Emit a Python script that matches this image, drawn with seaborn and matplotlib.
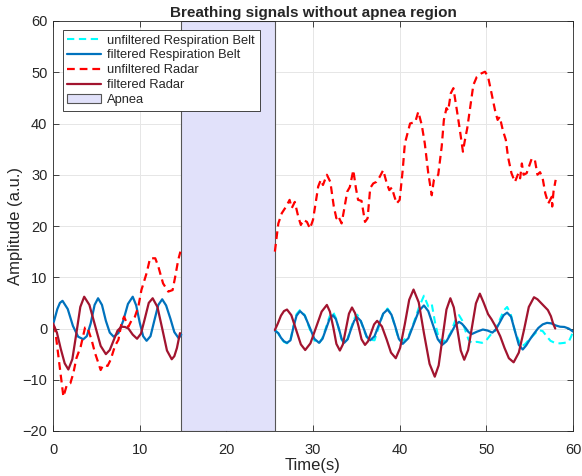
# Breathing signals without apnea region
import numpy as np
import pandas as pd
import matplotlib
matplotlib.use("Agg")
import matplotlib.pyplot as plt
import seaborn as sns
from matplotlib.patches import Patch
from matplotlib.lines import Line2D

# apnea window (s)
apnea_start = 14.8
apnea_end = 25.6

# filtered respiration belt, before apnea
belt_t1 = [0.0, 0.5, 0.8, 1.1, 1.7, 2.3, 2.9, 3.5, 3.9, 4.35, 4.8, 5.2, 5.65, 6.1, 6.55, 7.0,
           7.55, 8.1, 8.65, 9.2, 9.6, 10.0, 10.4, 10.8, 11.25, 11.7, 12.15, 12.6, 13.05, 13.55,
           14.0, 14.5, 14.8]
belt_f1 = [0.7, 3.8, 5.0, 5.4, 3.8, 0.5, -1.6, -2.1, -1.5, 1.0, 4.6, 5.9, 4.6, 1.5, -0.8, -1.6,
           -0.9, 1.5, 4.8, 6.2, 4.5, 1.2, -1.5, -2.4, -1.5, 1.6, 4.6, 5.7, 4.5, 1.9,
           -0.7, -1.9, -1.2]

# filtered radar, before apnea
radf_t1 = [0.0, 0.45, 0.9, 1.35, 1.77, 2.23, 2.7, 3.15, 3.6, 4.2, 4.85, 5.5, 6.1, 6.55, 7.0,
           7.45, 7.9, 8.3, 8.7, 9.2, 9.7, 10.15, 10.6, 11.05, 11.5, 12.05, 12.6, 13.15, 13.7,
           14.0, 14.3, 14.65]
radf_v1 = [1.0, -0.8, -4.0, -6.8, -8.0, -6.0, -0.9, 4.2, 6.2, 4.6, 0.6, -3.4, -5.0, -4.2, -2.3,
           -0.4, 0.35, 0.3, 0.0, -1.2, -2.0, -1.0, 1.95, 5.0, 5.9, 4.2, 0.0, -4.3, -6.0,
           -5.4, -3.8, -0.9]

# unfiltered radar, before apnea
radu_t1 = [0.0, 0.23, 1.2, 1.6, 2.0, 2.35, 2.7, 3.2, 3.7, 3.95, 4.45, 4.85, 5.25, 5.5, 5.8,
           6.3, 6.65, 7.15, 7.55, 7.9, 8.2, 8.7, 9.1, 9.45, 9.85, 10.2, 10.8, 11.2, 11.8,
           12.15, 12.7, 13.3, 13.8, 14.1, 14.45, 14.7]
radu_v1 = [0.7, 0.0, -13.3, -11.0, -10.7, -8.7, -5.8, -3.5, 0.2, 0.3, -2.2, -4.8, -6.8, -8.1, -7.1,
           -7.3, -6.1, -3.4, -2.2, 1.0, 2.3, 0.35, 1.7, 2.3, 4.3, 7.5, 10.8, 13.7, 13.7,
           12.1, 8.8, 7.2, 7.5, 10.1, 13.4, 15.0]

# filtered respiration belt, after apnea
belt_t2 = [25.65, 26.0, 26.3, 26.65, 27.0, 27.4, 27.75, 28.1, 28.5, 29.05, 29.6, 30.15, 30.7,
           31.1, 31.5, 31.9, 32.3, 32.65, 33.0, 33.3, 33.6, 34.0, 34.35, 34.75, 35.1, 35.5,
           35.85, 36.2, 36.6, 37.1, 37.6, 38.1, 38.6, 39.05, 39.5, 39.9, 40.35, 41.0, 41.6,
           42.2, 42.8, 43.3, 43.85, 44.4, 44.9, 45.4, 45.9, 46.4, 46.85, 47.2, 47.6, 47.95,
           48.3, 48.95, 49.6, 50.15, 50.7, 51.1, 51.55, 52.0, 52.4, 52.85, 53.3, 53.75, 54.2,
           54.6, 55.0, 55.5, 56.0, 56.5, 57.0, 57.5, 58.0, 58.5, 59.0, 59.5, 60.0]
belt_f2 = [-0.5, -0.9, -1.8, -2.5, -2.8, -2.3, 0.3, 2.5, 3.4, 2.5, 0.3, -2.0, -2.8,
           -2.0, -0.1, 1.8, 2.6, 1.8, -0.1, -2.0, -2.8, -2.1, -0.3, 1.5, 2.2, 1.5,
           0.0, -1.6, -2.3, -1.5, 0.7, 2.9, 3.7, 2.7, 0.35, -2.0, -3.0, -1.9, 0.75,
           3.4, 4.5, 3.4, 0.65, -2.1, -3.2, -2.5, -1.0, 0.6, 1.3, 0.9, 0.1, -0.7,
           -1.1, -0.6, -0.2, -0.4, -0.8, -0.2, 1.2, 2.6, 3.1, 2.3, -0.5, -3.2, -4.1,
           -3.3, -2.2, -1.0, 0.1, 0.8, 1.1, 1.0, 0.6, 0.35, 0.3, 0.0, -0.6]

# unfiltered respiration belt, after apnea
belt_t2u = [25.65, 26.0, 26.3, 26.65, 27.0, 27.4, 27.75, 28.1, 28.5, 29.05, 29.6, 30.0, 30.15,
            30.7, 31.1, 31.5, 31.9, 32.3, 32.65, 33.0, 33.3, 33.6, 34.0, 34.35, 34.75, 35.1,
            35.5, 35.85, 36.2, 36.6, 37.1, 37.6, 38.1, 38.6, 39.05, 39.5, 39.9, 40.35, 41.0,
            41.6, 42.2, 42.8, 43.3, 43.7, 44.1, 44.5, 44.9, 45.4, 45.9, 46.4, 46.85, 47.2,
            47.6, 47.95, 48.3, 48.9, 49.5, 50.0, 50.5, 51.0, 51.5, 52.0, 52.4, 52.8, 53.3,
            53.7, 54.1, 54.5, 55.0, 55.5, 56.0, 56.5, 57.0, 57.4, 57.9, 58.5, 59.0, 59.5,
            59.8, 60.0]
belt_u2 = [-0.3, -1.0, -1.9, -2.6, -2.9, -2.2, 0.5, 2.8, 3.6, 2.6, 0.0, -1.6, -2.3,
           -2.9, -1.8, 0.2, 2.3, 3.3, 2.0, -0.3, -2.2, -2.9, -2.0, -0.1, 1.9, 2.7,
           1.6, -0.2, -1.7, -2.2, -2.3, 0.4, 2.9, 3.9, 2.8, 0.2, -2.2, -2.4, -1.6,
           1.0, 4.0, 6.4, 4.3, 4.8, 1.0, -1.8, -2.6, -2.2, -0.8, 1.5, 2.6, 1.6,
           -0.5, -2.2, -2.8, -2.6, -2.8, -2.3, -1.2, -0.5, 1.5, 3.5, 4.2, 2.9, -0.5,
           -2.2, -3.5, -3.0, -2.0, -1.2, -0.3, -0.5, -1.6, -2.4, -2.8, -2.9, -2.8, -2.6,
           -1.5, -0.6]

# filtered radar, after apnea
radf_t2 = [25.6, 25.95, 26.3, 26.65, 27.0, 27.5, 28.05, 28.6, 29.1, 29.7, 30.35, 31.0, 31.6,
           31.95, 32.35, 32.7, 33.1, 33.45, 33.8, 34.15, 34.5, 34.85, 35.25, 35.6, 36.0,
           36.35, 36.7, 37.05, 37.4, 37.95, 38.5, 39.0, 39.55, 40.05, 40.6, 41.1, 41.6,
           42.2, 42.8, 43.45, 44.05, 44.5, 44.95, 45.4, 45.85, 46.25, 46.65, 47.05, 47.45,
           47.9, 48.35, 48.8, 49.25, 49.7, 50.2, 50.6, 51.0, 51.6, 52.1, 52.6, 53.15,
           53.75, 54.35, 54.9, 55.5, 55.9, 56.3, 56.7, 57.1, 57.45, 57.7, 57.95]
radf_v2 = [-0.3, 1.0, 2.5, 3.4, 3.7, 2.6, -0.25, -3.1, -4.2, -2.9, 0.2, 3.3, 4.6,
           3.3, 0.15, -3.0, -4.3, -3.1, -0.1, 2.9, 4.1, 3.0, 0.45, -2.1, -3.2,
           -2.5, -0.85, 0.8, 1.5, 0.4, -2.15, -4.7, -5.8, -3.8, 0.9, 5.6, 7.6,
           5.1, -0.9, -6.9, -9.4, -7.2, -1.75, 3.7, 5.9, 4.1, -0.1, -4.3, -6.1,
           -4.2, 0.35, 4.9, 6.8, 5.0, 2.8, 1.8, 0.6, -1.5, -3.8, -5.8, -6.6,
           -4.7, -0.25, 4.2, 6.1, 5.7, 5.0, 4.3, 3.6, 2.4, 1.0, 0.0]

# unfiltered radar, after apnea
radu_t2 = [25.6, 26.0, 26.4, 26.9, 27.3, 27.55, 27.9, 28.3, 28.6, 28.9, 29.3, 29.65, 30.0,
           30.6, 30.9, 31.15, 31.6, 32.0, 32.4, 32.7, 32.9, 33.3, 33.6, 33.95, 34.25, 34.65,
           34.95, 35.2, 35.6, 36.0, 36.3, 36.6, 36.95, 37.3, 37.7, 38.1, 38.5, 38.8, 39.1,
           39.35, 39.65, 40.0, 40.35, 40.6, 41.2, 41.8, 42.15, 42.55, 42.9, 43.3, 43.7,
           43.95, 44.45, 44.85, 45.1, 45.4, 45.6, 45.9, 46.2, 46.6, 46.95, 47.3, 47.5, 47.8,
           48.2, 48.5, 48.9, 49.45, 49.85, 50.2, 50.6, 51.0, 51.3, 51.55, 51.9, 52.25, 52.5,
           52.9, 53.3, 53.7, 53.9, 54.1, 54.3, 54.65, 54.9, 55.25, 55.6, 55.9, 56.2, 56.5,
           56.8, 57.15, 57.55, 57.6, 57.75, 58.0]
radu_v2 = [15.0, 20.5, 22.5, 23.8, 25.1, 23.5, 24.7, 21.8, 20.2, 21.2, 20.8, 19.5, 21.2,
           27.7, 29.0, 28.0, 30.0, 28.6, 23.8, 21.5, 22.0, 20.5, 23.3, 26.7, 27.6, 30.9,
           27.4, 25.1, 24.9, 20.8, 21.5, 27.4, 28.3, 28.6, 29.6, 30.9, 28.4, 27.0, 27.5,
           26.0, 24.4, 25.1, 30.9, 36.1, 40.0, 40.3, 42.3, 39.7, 36.1, 30.3, 26.0,
           29.0, 30.0, 35.5, 40.7, 43.0, 42.5, 45.9, 46.9, 42.6, 38.7, 34.5, 36.5, 39.1,
           43.9, 47.5, 49.1, 49.8, 50.1, 49.1, 45.9, 42.6, 40.7, 41.3, 38.7, 36.8, 33.5,
           30.3, 28.6, 30.3, 29.3, 32.2, 30.0, 30.3, 31.5, 33.2, 32.9, 30.0, 30.5, 29.3,
           26.4, 24.4, 25.7, 23.8, 26.7, 29.0]

x_ticks = [0, 10, 20, 30, 40, 50, 60]
y_ticks = [-20, -10, 0, 10, 20, 30, 40, 50, 60]

c_belt_u = '#00FFFF'
c_belt_f = '#0072BD'
c_rad_u = '#FF0000'
c_rad_f = '#A2142F'
c_apnea = '#E1E1FA'

sns.set_theme(style="white")
plt.rcParams['font.family'] = ['Liberation Sans', 'DejaVu Sans']

fig = plt.figure(figsize=(5.82, 4.76), dpi=100)
ax = fig.add_axes([53 / 582, 1 - 431 / 476, 520 / 582, 410 / 476])

ax.axvspan(apnea_start, apnea_end, facecolor=c_apnea, edgecolor='#555555', linewidth=0.8, zorder=1)

dash = (3.5, 2.2)
sns.lineplot(x=belt_t2u, y=belt_u2, ax=ax, color=c_belt_u, lw=1.5, sort=False,
             estimator=None, zorder=3)
ax.lines[-1].set_dashes(dash)
sns.lineplot(x=belt_t1, y=belt_f1, ax=ax, color=c_belt_f, lw=1.6, sort=False, estimator=None, zorder=4)
sns.lineplot(x=belt_t2, y=belt_f2, ax=ax, color=c_belt_f, lw=1.6, sort=False, estimator=None, zorder=4)
for tt, vv in [(radu_t1, radu_v1), (radu_t2, radu_v2)]:
    sns.lineplot(x=tt, y=vv, ax=ax, color=c_rad_u, lw=1.6, sort=False, estimator=None, zorder=5)
    ax.lines[-1].set_dashes(dash)
sns.lineplot(x=radf_t1, y=radf_v1, ax=ax, color=c_rad_f, lw=1.6, sort=False, estimator=None, zorder=6)
sns.lineplot(x=radf_t2, y=radf_v2, ax=ax, color=c_rad_f, lw=1.6, sort=False, estimator=None, zorder=6)

ax.set_xlim(0, 60)
ax.set_ylim(-20, 60)
ax.set_xticks(x_ticks)
ax.set_yticks(y_ticks)
ax.grid(True, color='#E6E6E6', lw=0.7, zorder=0)
ax.set_axisbelow(True)
for s in ax.spines.values():
    s.set_color('#262626')
    s.set_linewidth(0.6)
ax.tick_params(direction='in', length=4, width=0.6, colors='#262626', labelsize=10.5,
               top=True, right=True, bottom=True, left=True, pad=4)
ax.tick_params(axis='x', pad=8.5)

ax.set_title('Breathing signals without apnea region', fontsize=11, fontweight='bold', pad=3)
ax.set_xlabel('Time(s)', fontsize=12, labelpad=1)
ax.set_ylabel('Amplitude (a.u.)', fontsize=12, labelpad=0)

handles = [
    Line2D([], [], color=c_belt_u, lw=1.5, dashes=dash),
    Line2D([], [], color=c_belt_f, lw=1.6),
    Line2D([], [], color=c_rad_u, lw=1.6, dashes=dash),
    Line2D([], [], color=c_rad_f, lw=1.6),
    Patch(facecolor=c_apnea, edgecolor='#555555', linewidth=0.8),
]
labels = ['unfiltered Respiration Belt', 'filtered Respiration Belt', 'unfiltered Radar',
          'filtered Radar', 'Apnea']
leg = ax.legend(handles, labels, loc='upper left', bbox_to_anchor=(0.019, 0.978), fontsize=9.3,
                frameon=True, fancybox=False, edgecolor='#262626', framealpha=1,
                handlelength=2.6, handletextpad=0.5, labelspacing=0.22, borderpad=0.35,
                borderaxespad=0)
leg.get_frame().set_linewidth(0.6)
leg.set_zorder(10)

fig.savefig('out.png', dpi=100)
